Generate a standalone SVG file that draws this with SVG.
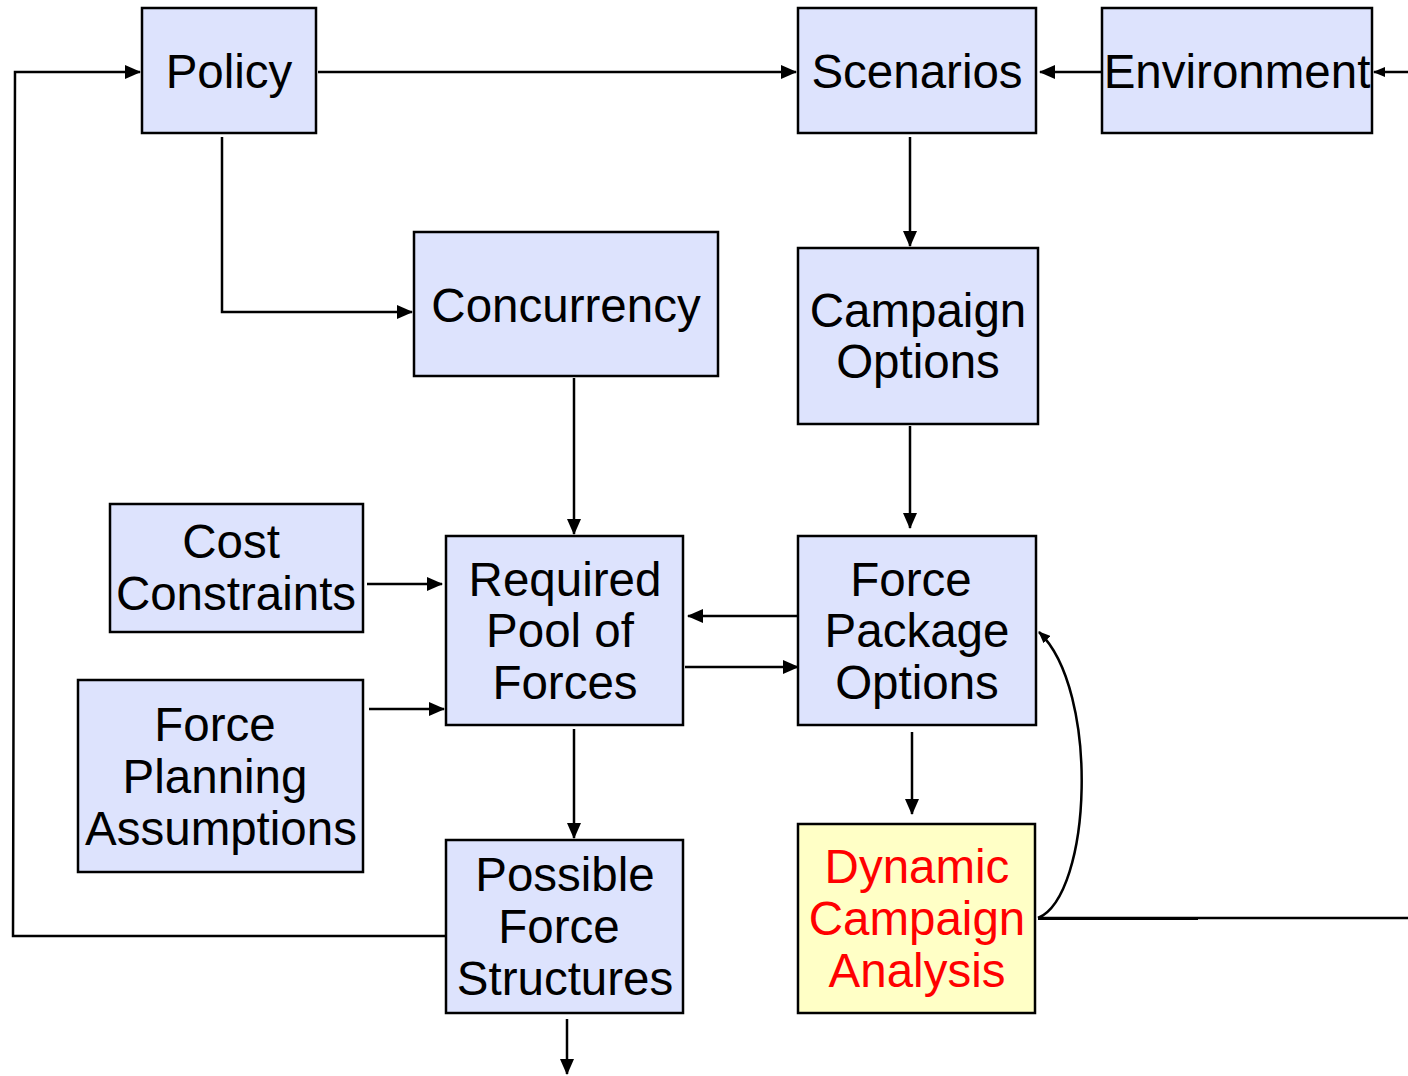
<svg xmlns="http://www.w3.org/2000/svg" width="1408" height="1076" viewBox="0 0 1408 1076">
<style>
.box{fill:#dde3fd;stroke:#000;stroke-width:2.5}
.dyn{fill:#ffffc6;stroke:#000;stroke-width:2.5}
.t{font-family:"Liberation Sans",Arial,sans-serif;font-size:47.5px;fill:#000;text-anchor:middle}
.r{fill:#ff0000}
.c{fill:none;stroke:#000;stroke-width:2.5}
</style>
<defs>
<marker id="a" markerUnits="userSpaceOnUse" markerWidth="16" markerHeight="14" refX="15" refY="7" orient="auto"><path d="M0,0 L16,7 L0,14 Z" fill="#000"/></marker>
<marker id="s" markerUnits="userSpaceOnUse" markerWidth="12" markerHeight="10" refX="11" refY="5" orient="auto"><path d="M0,0 L12,5 L0,10 Z" fill="#000"/></marker>
</defs>
<rect width="1408" height="1076" fill="#fff"/>
<g id="connectors">
<path class="c" d="M318,72 H796" marker-end="url(#a)"/>
<path class="c" d="M1102,72 H1040" marker-end="url(#a)"/>
<path class="c" d="M1408,72 H1374" marker-end="url(#s)"/>
<path class="c" d="M446,936 H13 L15,72 H140" marker-end="url(#a)"/>
<path class="c" d="M222,137 V312 H412" marker-end="url(#a)"/>
<path class="c" d="M910,137 V246" marker-end="url(#a)"/>
<path class="c" d="M910,426 V528" marker-end="url(#a)"/>
<path class="c" d="M574,378 V534" marker-end="url(#a)"/>
<path class="c" d="M367,584 H442" marker-end="url(#a)"/>
<path class="c" d="M369,709 H444" marker-end="url(#a)"/>
<path class="c" d="M798,616 H688" marker-end="url(#a)"/>
<path class="c" d="M685,667 H798" marker-end="url(#a)"/>
<path class="c" d="M574,729 V838" marker-end="url(#a)"/>
<path class="c" d="M912,732 V814" marker-end="url(#a)"/>
<path class="c" d="M567,1019 V1074" marker-end="url(#a)"/>
<path class="c" d="M1038,918 C1092,895 1100,690 1039,632" marker-end="url(#s)"/>
<path class="c" d="M1038,918 H1408"/>
<path d="M1038,919 H1198" stroke="#000" stroke-width="2"/>
</g>
<g id="policy"><rect class="box" x="142" y="8" width="174" height="125"/><text class="t" x="229" y="88">Policy</text></g>
<g id="scenarios"><rect class="box" x="798" y="8" width="238" height="125"/><text class="t" x="917" y="88">Scenarios</text></g>
<g id="environment"><rect class="box" x="1102" y="8" width="270" height="125"/><text class="t" x="1237" y="88">Environment</text></g>
<g id="concurrency"><rect class="box" x="414" y="232" width="304" height="144"/><text class="t" x="566" y="322">Concurrency</text></g>
<g id="campaign-options"><rect class="box" x="798" y="248" width="240" height="176"/><text class="t" x="918" y="327">Campaign</text><text class="t" x="918" y="378">Options</text></g>
<g id="cost-constraints"><rect class="box" x="110" y="504" width="253" height="128"/><text class="t" x="231" y="558">Cost</text><text class="t" x="236" y="610">Constraints</text></g>
<g id="required-pool"><rect class="box" x="446" y="536" width="237" height="189"/><text class="t" x="565" y="596">Required</text><text class="t" x="560" y="647">Pool of</text><text class="t" x="565" y="699">Forces</text></g>
<g id="force-package"><rect class="box" x="798" y="536" width="238" height="189"/><text class="t" x="911" y="596">Force</text><text class="t" x="917" y="647">Package</text><text class="t" x="917" y="699">Options</text></g>
<g id="force-planning"><rect class="box" x="78" y="680" width="285" height="192"/><text class="t" x="215" y="741">Force</text><text class="t" x="215" y="793">Planning</text><text class="t" x="221" y="845">Assumptions</text></g>
<g id="possible-force"><rect class="box" x="446" y="840" width="237" height="173"/><text class="t" x="565" y="891">Possible</text><text class="t" x="559" y="943">Force</text><text class="t" x="565" y="995">Structures</text></g>
<g id="dynamic-campaign"><rect class="dyn" x="798" y="824" width="237" height="189"/><text class="t r" x="917" y="883">Dynamic</text><text class="t r" x="917" y="935">Campaign</text><text class="t r" x="917" y="987">Analysis</text></g>
</svg>
